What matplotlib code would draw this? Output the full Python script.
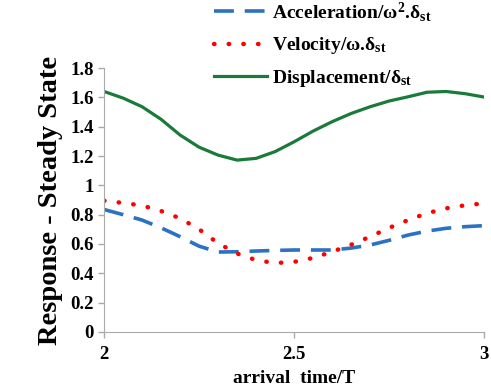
import matplotlib
matplotlib.use("Agg")
import matplotlib.pyplot as plt

# ---------------------------------------------------------------------------
# Data
# ---------------------------------------------------------------------------
arrival = [2.0, 2.05, 2.1, 2.15, 2.2, 2.25, 2.3, 2.35, 2.4, 2.45, 2.5,
           2.55, 2.6, 2.65, 2.7, 2.75, 2.8, 2.85, 2.9, 2.95, 3.0]

acceleration = [0.835, 0.80, 0.763, 0.71, 0.65, 0.585, 0.545, 0.547, 0.552, 0.556, 0.559,
                0.559, 0.559, 0.572, 0.593, 0.625, 0.661, 0.688, 0.707, 0.718, 0.725]
velocity = [0.895, 0.88, 0.862, 0.825, 0.775, 0.70, 0.605, 0.535, 0.49, 0.47, 0.478,
            0.505, 0.547, 0.595, 0.65, 0.71, 0.763, 0.81, 0.843, 0.864, 0.877]
displacement = [1.64, 1.595, 1.536, 1.45, 1.343, 1.26, 1.206, 1.172, 1.184, 1.23, 1.297,
                1.37, 1.434, 1.49, 1.536, 1.575, 1.604, 1.635, 1.64, 1.625, 1.602]

series_labels = [r"Acceleration/$\omega^2$.$\delta_{st}$",
                 r"Velocity/$\omega$.$\delta_{st}$",
                 r"Displacement/$\delta_{st}$"]

y_ticks = [0, 0.2, 0.4, 0.6, 0.8, 1, 1.2, 1.4, 1.6, 1.8]
y_ticklabels = ["0", "0.2", "0.4", "0.6", "0.8", "1", "1.2", "1.4", "1.6", "1.8"]
x_ticks = [2, 2.5, 3]
x_ticklabels = ["2", "2.5", "3"]

# ---------------------------------------------------------------------------
# Style
# ---------------------------------------------------------------------------
plt.rcParams["font.family"] = ["Liberation Serif", "DejaVu Serif"]
plt.rcParams["font.weight"] = "bold"
plt.rcParams["mathtext.fontset"] = "custom"
plt.rcParams["mathtext.rm"] = "Liberation Serif:bold"
plt.rcParams["mathtext.it"] = "Liberation Serif:bold"
plt.rcParams["mathtext.bf"] = "Liberation Serif:bold"

fig = plt.figure(figsize=(4.91, 3.91), dpi=100)
ax = fig.add_axes([0.212, 0.151, 0.774, 0.675])

l1, = ax.plot(arrival, acceleration, color="#2a72c2", linewidth=2.6,
              dashes=(5.5, 3), label=series_labels[0])
l2, = ax.plot(arrival, velocity, color="#ff0000", linewidth=3.2,
              linestyle=(0, (0.1, 3.2)), dash_capstyle="round", label=series_labels[1])
l3, = ax.plot(arrival, displacement, color="#1a7a3a", linewidth=2.3,
              label=series_labels[2])

ax.set_xlim(2, 3)
ax.set_ylim(0, 1.8)
ax.set_xticks(x_ticks)
ax.set_xticklabels(x_ticklabels)
ax.set_yticks(y_ticks)
ax.set_yticklabels(y_ticklabels)
ax.tick_params(axis="both", labelsize=13.5, color="#aaaaaa", length=4, width=1)
ax.tick_params(axis="x", pad=6)
for side in ("top", "right"):
    ax.spines[side].set_visible(False)
for side in ("left", "bottom"):
    ax.spines[side].set_color("#aaaaaa")
ax.set_xlabel("arrival  time/T", fontsize=14, fontweight="bold", labelpad=5)
ax.set_ylabel("Response - Steady State", fontsize=20.5, fontweight="bold", labelpad=5)

fig.legend(handles=[l1, l2, l3], loc="upper left", bbox_to_anchor=(0.40, 1.045),
           frameon=False, fontsize=14, handlelength=2.75, labelspacing=0.6,
           handletextpad=0.25)

fig.savefig("out.png", dpi=100)
